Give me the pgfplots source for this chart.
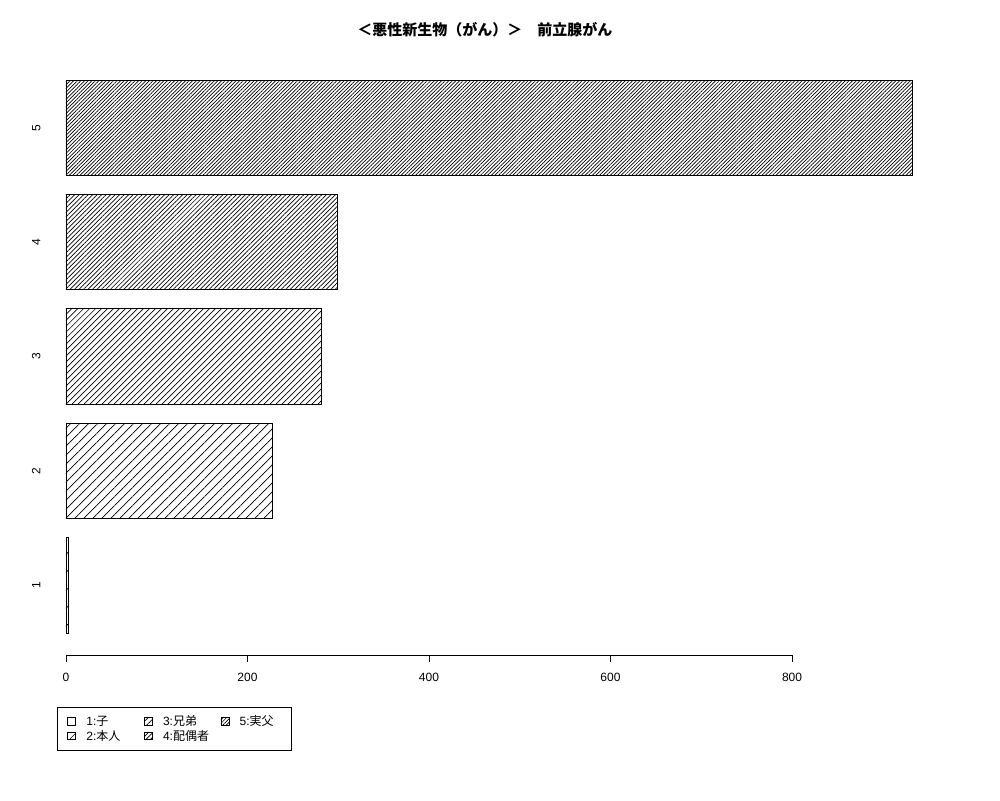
\documentclass[border=0pt]{standalone}
\usepackage{pgfplots}
\pgfplotsset{compat=1.18}
\usetikzlibrary{patterns.meta}
\usepackage{fontspec}
\setmainfont{Liberation Sans}
\newfontfamily\cjk{Noto Sans CJK JP}

% hatch styles (perpendicular spacing in px = pt here)
\tikzset{
  h1/.style={pattern={Lines[angle=45,distance=12.7pt,line width=0.7pt]}},
  h2/.style={pattern={Lines[angle=45,distance=6.36pt,line width=0.7pt]}},
  h3/.style={pattern={Lines[angle=45,distance=4.24pt,line width=0.7pt]}},
  h4/.style={pattern={Lines[angle=45,distance=3.18pt,line width=0.7pt]}},
  h5/.style={pattern={Lines[angle=45,distance=2.55pt,line width=0.7pt]}},
}

\begin{document}
\begin{tikzpicture}
\useasboundingbox (-40pt,-144.9pt) rectangle (960pt,655.1pt);
\begin{axis}[
  at={(0pt,0pt)}, anchor=south west,
  scale only axis,
  width=907pt, height=597.2pt,
  xmin=-28.65, xmax=970.8,
  ymin=-0.032, ymax=6.232,
  axis line style={draw=none},
  clip=false,
  xtick={0,200,400,600,800},
  xtick pos=bottom,
  tick align=outside,
  major tick length=7pt,
  x tick style={black, line width=0.8pt},
  xticklabel shift=7pt,
  ytick={0.7,1.9,3.1,4.3,5.5},
  yticklabels={1,2,3,4,5},
  y tick style={draw=none},
  yticklabel style={rotate=90, anchor=south},
  yticklabel shift=-11pt,
  /pgf/number format/assume math mode=true,
  tick label style={font=\fontsize{12}{14}\selectfont},
  title={\cjk\bfseries ＜悪性新生物（がん）＞　前立腺がん},
  title style={at={(0.4906,1)}, anchor=center, yshift=22pt,
               font=\fontsize{15}{18}\selectfont},
  legend image code/.code={\draw[#1] (0pt,-3.5pt) rectangle (8pt,4pt); \path (17pt,0pt);},
  legend columns=3,
  legend cell align=left,
  legend style={at={(0.0187,-0.0869)}, anchor=north west,
                draw=black, line width=0.8pt,
                font=\fontsize{12}{13}\selectfont,
                inner xsep=10pt, inner ysep=7pt,
                nodes={inner sep=1.5pt},
                /tikz/every even column/.append style={column sep=0pt}},
]
\addplot[xbar, bar width=1, bar shift=0pt, draw=black, line width=0.8pt, h1, forget plot] coordinates {(3,0.7)};
\addplot[xbar, bar width=1, bar shift=0pt, draw=black, line width=0.8pt, h2, forget plot] coordinates {(227,1.9)};
\addplot[xbar, bar width=1, bar shift=0pt, draw=black, line width=0.8pt, h3, forget plot] coordinates {(281,3.1)};
\addplot[xbar, bar width=1, bar shift=0pt, draw=black, line width=0.8pt, h4, forget plot] coordinates {(299,4.3)};
\addplot[xbar, bar width=1, bar shift=0pt, draw=black, line width=0.8pt, h5, forget plot] coordinates {(933,5.5)};
\draw[black, line width=0.8pt] (axis cs:0,-0.032) -- (axis cs:800,-0.032);
% legend, filled row by row: 1 3 5 / 2 4
\addlegendimage{draw=black, line width=0.6pt, h1}
\addlegendentry{\makebox[56pt][l]{1:{\cjk 子}}}
\addlegendimage{draw=black, line width=0.6pt, h3}
\addlegendentry{\makebox[56pt][l]{3:{\cjk 兄弟}}}
\addlegendimage{draw=black, line width=0.6pt, h5}
\addlegendentry{\makebox[40pt][l]{5:{\cjk 実父}}}
\addlegendimage{draw=black, line width=0.6pt, h2}
\addlegendentry{\makebox[56pt][l]{2:{\cjk 本人}}}
\addlegendimage{draw=black, line width=0.6pt, h4}
\addlegendentry{\makebox[56pt][l]{4:{\cjk 配偶者}}}
\end{axis}
\end{tikzpicture}
\end{document}
